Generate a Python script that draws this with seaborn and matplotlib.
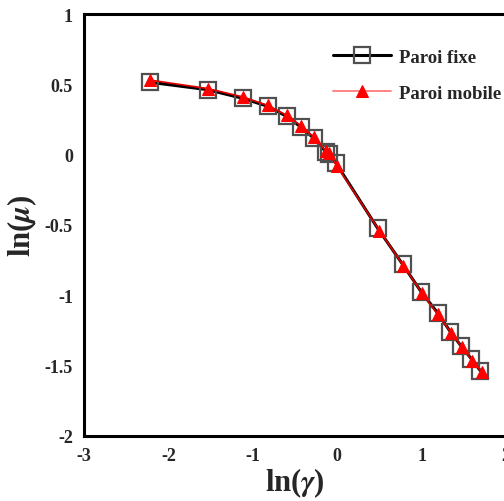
import matplotlib
matplotlib.use("Agg")
import matplotlib.pyplot as plt
import seaborn as sns
import numpy as np
import pandas as pd
from matplotlib.ticker import MultipleLocator

ln_gamma_fixe = [-2.22, -1.535, -1.116, -0.823, -0.60, -0.427, -0.277, -0.134, -0.095, -0.015,
                 0.479, 0.776, 0.994, 1.19, 1.34, 1.47, 1.59, 1.695]
ln_mu_fixe = [0.515, 0.462, 0.40, 0.344, 0.273, 0.195, 0.117, 0.02, 0.003, -0.06,
              -0.523, -0.78, -0.974, -1.125, -1.258, -1.362, -1.452, -1.535]
ln_gamma_mobile = [-2.215, -1.535, -1.113, -0.823, -0.60, -0.427, -0.277, -0.134, -0.10, -0.005,
                   0.50, 0.785, 1.005, 1.19, 1.35, 1.48, 1.60, 1.71]
ln_mu_mobile = [0.53, 0.47, 0.41, 0.35, 0.28, 0.205, 0.125, 0.025, 0.01, -0.08,
                -0.54, -0.79, -0.985, -1.135, -1.265, -1.37, -1.465, -1.545]

sns.set_style("white")
plt.rcParams['font.family'] = ['Liberation Serif', 'DejaVu Serif']
plt.rcParams['font.weight'] = 'bold'
plt.rcParams['mathtext.fontset'] = 'stix'

fig = plt.figure(figsize=(5.04, 5.02), dpi=100)
ax = fig.add_axes([84/504, 1-437/502, (506-84)/504, (437-15)/502])

df_f = pd.DataFrame({"x": ln_gamma_fixe, "y": ln_mu_fixe})
df_m = pd.DataFrame({"x": ln_gamma_mobile, "y": ln_mu_mobile})

sns.lineplot(data=df_f, x="x", y="y", sort=False, ax=ax, color="black", lw=2.2,
             marker="s", markersize=11, markerfacecolor="none", markeredgecolor="#505050",
             markeredgewidth=1.6, label="Paroi fixe", clip_on=False)
sns.lineplot(data=df_m, x="x", y="y", sort=False, ax=ax, color="#e00000", lw=1.2,
             marker="^", markersize=8, markerfacecolor="red", markeredgecolor="red",
             label="Paroi mobile", clip_on=False)

ax.set_xlim(-3, 2)
ax.set_ylim(-2, 1)
ax.xaxis.set_major_locator(MultipleLocator(1))
ax.xaxis.set_minor_locator(MultipleLocator(0.5))
ax.yaxis.set_major_locator(MultipleLocator(0.5))
ax.yaxis.set_minor_locator(MultipleLocator(0.25))
ax.tick_params(which="major", direction="in", length=14, width=2, labelsize=13,
               top=False, right=False, pad=8)
ax.tick_params(which="minor", direction="in", length=7, width=2, top=False, right=False)
ax.set_xticklabels([f"{v:g}" for v in ax.get_xticks()])
ax.set_yticklabels([f"{v:g}" for v in ax.get_yticks()])
for lab in ax.get_xticklabels() + ax.get_yticklabels():
    lab.set_fontweight("bold")

for s in ["left", "bottom", "top"]:
    ax.spines[s].set_linewidth(2.2)
    ax.spines[s].set_color("black")
ax.spines["right"].set_visible(False)

ax.set_xlabel(r"ln($\gamma$)", fontsize=22, fontweight="bold", labelpad=1)
ax.set_ylabel(r"ln($\mu$)", fontsize=22, fontweight="bold", labelpad=4)

leg = ax.legend(loc="upper left", bbox_to_anchor=(316/504, 1-33/502),
                bbox_transform=fig.transFigure, frameon=False,
                prop={"family": "Liberation Serif", "weight": "bold", "size": 13.5},
                handlelength=3.1, labelspacing=1.0, handletextpad=0.45)
leg.legend_handles[1].set_color("#ff7070")

fig.savefig("out.png", dpi=100)
